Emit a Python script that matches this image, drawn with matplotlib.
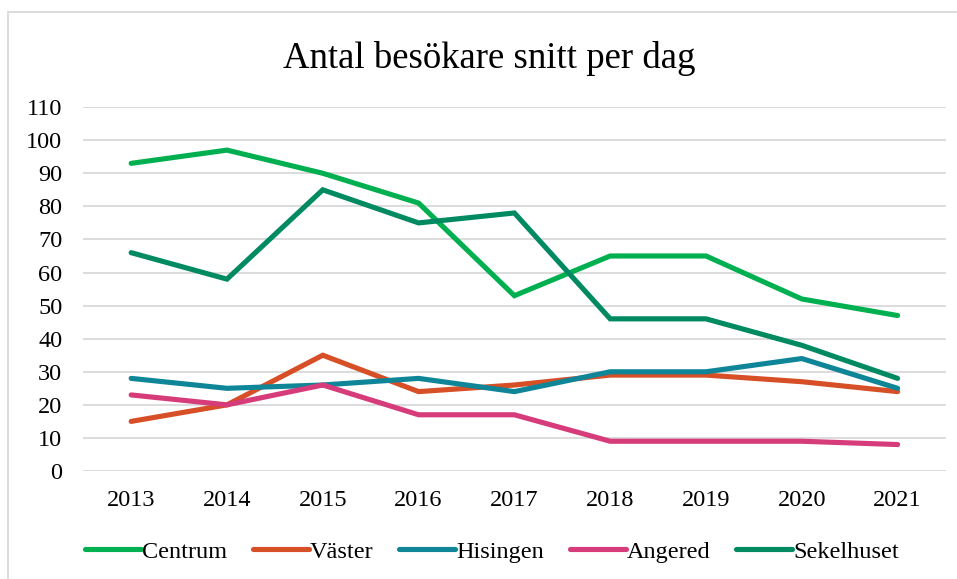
import matplotlib.pyplot as plt
from matplotlib.patches import Rectangle

years = ["2013", "2014", "2015", "2016", "2017", "2018", "2019", "2020", "2021"]
centrum = [93, 97, 90, 81, 53, 65, 65, 52, 47]
vaster = [15, 20, 35, 24, 26, 29, 29, 27, 24]
hisingen = [28, 25, 26, 28, 24, 30, 30, 34, 25]
angered = [23, 20, 26, 17, 17, 9, 9, 9, 8]
sekelhuset = [66, 58, 85, 75, 78, 46, 46, 38, 28]

series = [
    ("Centrum", centrum, "#00B050"),
    ("Väster", vaster, "#D64F26"),
    ("Hisingen", hisingen, "#0F8598"),
    ("Angered", angered, "#D63C7A"),
    ("Sekelhuset", sekelhuset, "#008A62"),
]

plt.rcParams["font.family"] = ["Liberation Serif", "DejaVu Serif"]

fig = plt.figure(figsize=(9.57, 5.79), dpi=100)
ax = fig.add_axes([0.087, 0.1865, 0.901, 0.6285])

x = range(len(years))
for name, vals, col in series:
    ax.plot(x, vals, color=col, lw=3.7, label=name, solid_capstyle="round", solid_joinstyle="miter")

ax.set_xlim(-0.5, len(years) - 0.5)
ax.set_ylim(0, 110)
ax.set_yticks(range(0, 111, 10))
ax.set_xticks(list(x))
ax.set_xticklabels(years)
ax.grid(axis="y", color="#D9D9D9", lw=1.3)
ax.set_axisbelow(True)
for s in ax.spines.values():
    s.set_visible(False)
ax.tick_params(length=0, labelsize=17.5, colors="black")
ax.tick_params(axis="x", pad=14)
ax.tick_params(axis="y", pad=15)

fig.text(489 / 957, 1 - 58 / 579, "Antal besökare snitt per dag", fontsize=26.5,
         ha="center", va="center")

ax.legend(loc="center", bbox_to_anchor=(0.474, -0.222), ncol=5, frameon=False,
          fontsize=17.5, handlelength=2.3, handletextpad=0.05, columnspacing=1.05,
          borderaxespad=0, borderpad=0)

fig.patches.append(Rectangle((8 / 957, -0.05), 1.05, 1 - 12 / 579 + 0.05,
                             transform=fig.transFigure, fill=False,
                             edgecolor="#D9D9D9", lw=1.3))

fig.savefig("out.png", dpi=100)
